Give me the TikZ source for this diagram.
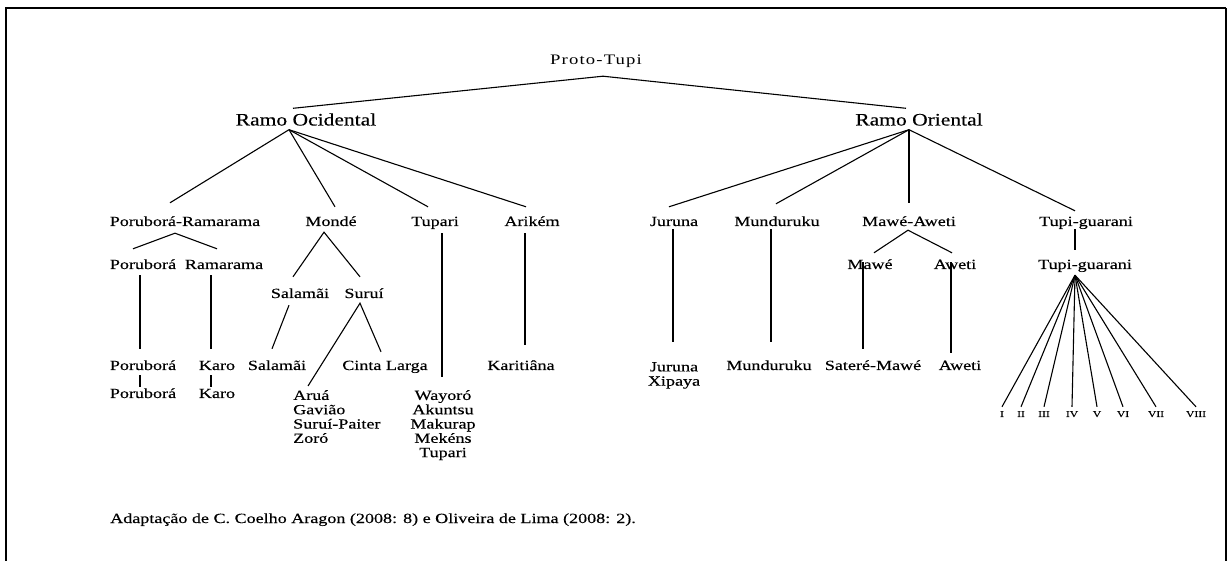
\documentclass[tikz,border=0pt]{standalone}
\usepackage{fontspec}
\setmainfont{Liberation Serif}[FakeStretch=1.29,FakeBold=0.3]
\newfontfamily\protofont{Liberation Serif}[FakeStretch=1.29,LetterSpace=8]
\newfontfamily\ramofont{Liberation Serif}[FakeStretch=1.23,FakeBold=0.3]
\newcommand{\bodyfont}{\fontsize{14}{14.3}\selectfont}
\begin{document}
\begin{tikzpicture}[x=1pt,y=-1pt,
  lang/.style={inner sep=0pt,text height=9pt,text depth=3pt,font=\bodyfont},
  ramo/.style={inner sep=0pt,text height=11pt,text depth=4pt,font=\ramofont\fontsize{17.5}{19}\selectfont},
  list/.style={inner sep=0pt,font=\bodyfont},
  num/.style={inner sep=0pt,text height=6pt,text depth=0pt,font=\fontsize{9}{9}\selectfont},
  edge/.style={line width=1.1pt}]
\useasboundingbox (0,0) rectangle (1227,561);
% Frame
\draw[line width=2pt] (6,561) -- (6,8) -- (1226,8);
\draw[line width=1.2pt] (1226,8) -- (1226,561);

% Root and branches
\node[lang,font=\protofont\fontsize{14.5}{15}\selectfont] (proto) at (596,62) {Proto-Tupi};
\node[ramo] (ro) at (306,122) {Ramo Ocidental};
\node[ramo] (ror) at (919,122) {Ramo Oriental};

% Ramo Ocidental
\node[lang] (pr) at (185,223) {Poruborá-Ramarama};
\node[lang] (mo) at (331,223) {Mondé};
\node[lang] (tu) at (435,223) {Tupari};
\node[lang] (ar) at (532,223) {Arikém};
\node[lang] (po) at (143,266) {Poruborá};
\node[lang] (ra) at (224,266) {Ramarama};
\node[lang] (sa) at (300,295) {Salamãi};
\node[lang] (su) at (364,295) {Suruí};
\node[lang] (po2) at (143,367) {Poruborá};
\node[lang] (ka) at (217,367) {Karo};
\node[lang] (sa2) at (277,367) {Salamãi};
\node[lang] (cl) at (385,367) {Cinta Larga};
\node[lang] (kt) at (521,367) {Karitiâna};
\node[lang] (po3) at (143,395) {Poruborá};
\node[lang] (ka2) at (217,395) {Karo};
\node[list,align=left,anchor=north west] (arua) at (293,390) {Aruá\\Gavião\\Suruí-Paiter\\Zoró};
\node[list,align=center,anchor=north] (tl) at (443,390) {Wayoró\\Akuntsu\\Makurap\\Mekéns\\Tupari};

% Ramo Oriental
\node[lang] (ju) at (674,223) {Juruna};
\node[lang] (mu) at (777,223) {Munduruku};
\node[lang] (ma) at (909,223) {Mawé-Aweti};
\node[lang] (tg) at (1086,223) {Tupi-guarani};
\node[lang] (maw) at (870,266) {Mawé};
\node[lang] (aw) at (955,266) {Aweti};
\node[lang] (tg2) at (1085,266) {Tupi-guarani};
\node[list,align=center,anchor=north] (ju2) at (674,362) {Juruna\\Xipaya};
\node[lang] (mu2) at (769,367) {Munduruku};
\node[lang] (sm) at (873,367) {Sateré-Mawé};
\node[lang] (aw2) at (960,367) {Aweti};
\foreach \r/\x [count=\i] in {I/1002,II/1021,III/1044,IV/1072,V/1097,VI/1123,VII/1156,VIII/1196}
  \node[num] (n\i) at (\x,414) {\r};

% Caption
\node[lang,anchor=west] (cap) at (110,520) {Adaptação de C. Coelho Aragon (2008: 8) e Oliveira de Lima (2008: 2).};

% Connectors
\draw[edge] ([xshift=-13pt,yshift=6pt]ro.north) -- ([xshift=7pt,yshift=-8pt]proto.south) -- ([xshift=-13pt,yshift=6pt]ror.north);
\foreach \t/\dx/\dy in {pr/-15/14, mo/4/10, tu/-7/10, ar/-6/10}
  \draw[edge] ([xshift=-17pt]ro.south) -- ([xshift=\dx pt,yshift=\dy pt]\t.north);
\foreach \t/\dx/\dy in {ju/-5/10, mu/-1/13, ma/0/14, tg/-11/6}
  \draw[edge] ([xshift=-10pt]ror.south) -- ([xshift=\dx pt,yshift=\dy pt]\t.north);
\draw[edge] ([xshift=-10pt,yshift=11pt]po.north) -- ([xshift=-10pt,yshift=-4pt]pr.south) -- ([xshift=-7pt,yshift=11pt]ra.north);
\draw[edge] ([xshift=-7pt,yshift=12pt]sa.north) -- ([xshift=-7pt,yshift=-3pt]mo.south) -- ([xshift=-4pt,yshift=12pt]su.north);
\draw[edge] ([xshift=7pt,yshift=-4pt]tu.south) -- ([xshift=-1pt,yshift=13pt]tl.north);
\draw[edge] ([xshift=-7pt,yshift=-4pt]ar.south) -- ([xshift=4pt,yshift=16pt]kt.north);
\draw[edge] ([xshift=-3pt,yshift=-3pt]po.south) -- ([xshift=-3pt,yshift=12pt]po2.north);
\draw[edge] ([xshift=-13pt,yshift=-3pt]ra.south) -- ([xshift=-6pt,yshift=12pt]ka.north);
\draw[edge] ([xshift=-11pt,yshift=-4pt]sa.south) -- ([xshift=-5pt,yshift=12pt]sa2.north);
\draw[edge] ([xshift=15pt,yshift=4pt]arua.north west) -- ([xshift=-4pt,yshift=-2pt]su.south) -- ([xshift=-4pt,yshift=9pt]cl.north);
\draw[edge] ([xshift=-3pt,yshift=-2pt]po2.south) -- ([xshift=-3pt,yshift=2pt]po3.north);
\draw[edge] ([xshift=-6pt,yshift=-2pt]ka.south) -- ([xshift=-6pt,yshift=2pt]ka2.north);
\draw[edge] ([xshift=-1pt]ju.south) -- ([xshift=-1pt,yshift=20pt]ju2.north);
\draw[edge] ([xshift=-6pt]mu.south) -- ([xshift=2pt,yshift=19pt]mu2.north);
\draw[edge] ([xshift=4pt,yshift=7pt]maw.north) -- ([xshift=-1pt,yshift=-1pt]ma.south) -- ([xshift=-3pt,yshift=7pt]aw.north);
\draw[edge] ([xshift=-7pt,yshift=10pt]maw.south) -- ([xshift=-10pt,yshift=12pt]sm.north);
\draw[edge] ([xshift=-4pt,yshift=10pt]aw.south) -- ([xshift=-9pt,yshift=8pt]aw2.north);
\draw[edge] ([xshift=-11pt]tg.south) -- ([xshift=-10pt,yshift=10pt]tg2.north);
\foreach \i in {1,...,8}
  \draw[edge] ([xshift=-10pt,yshift=-3pt]tg2.south) -- ([yshift=4pt]n\i.north);
\end{tikzpicture}
\end{document}
